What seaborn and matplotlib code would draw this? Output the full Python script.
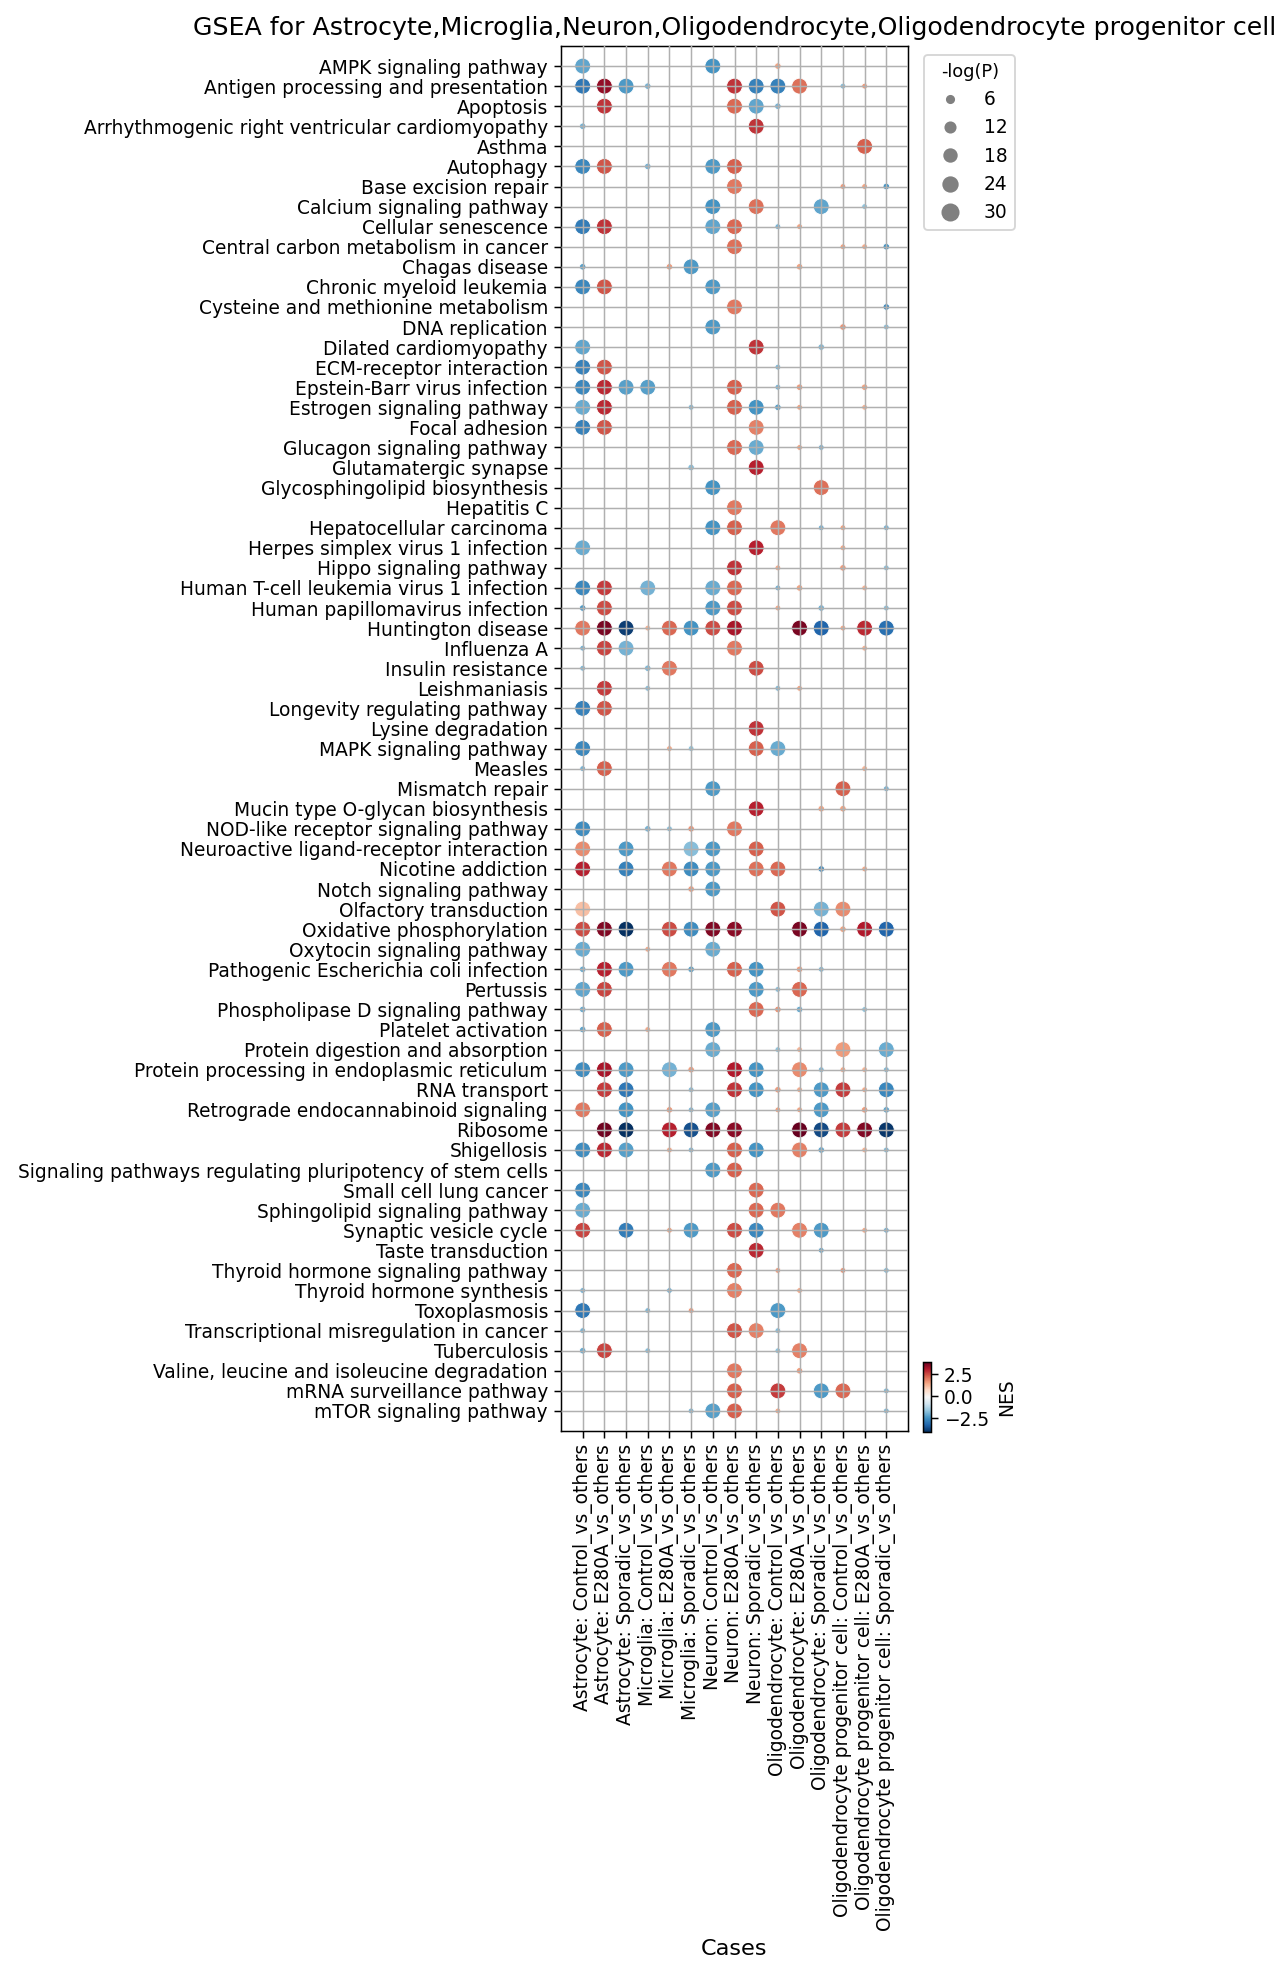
import pandas as pd
import matplotlib
matplotlib.use("Agg")
import matplotlib.pyplot as plt
from matplotlib.lines import Line2D
import seaborn as sns

pathways = [
    "AMPK signaling pathway", "Antigen processing and presentation", "Apoptosis",
    "Arrhythmogenic right ventricular cardiomyopathy", "Asthma", "Autophagy",
    "Base excision repair", "Calcium signaling pathway", "Cellular senescence",
    "Central carbon metabolism in cancer", "Chagas disease", "Chronic myeloid leukemia",
    "Cysteine and methionine metabolism", "DNA replication", "Dilated cardiomyopathy",
    "ECM-receptor interaction", "Epstein-Barr virus infection", "Estrogen signaling pathway",
    "Focal adhesion", "Glucagon signaling pathway", "Glutamatergic synapse",
    "Glycosphingolipid biosynthesis", "Hepatitis C", "Hepatocellular carcinoma",
    "Herpes simplex virus 1 infection", "Hippo signaling pathway",
    "Human T-cell leukemia virus 1 infection", "Human papillomavirus infection",
    "Huntington disease", "Influenza A", "Insulin resistance", "Leishmaniasis",
    "Longevity regulating pathway", "Lysine degradation", "MAPK signaling pathway",
    "Measles", "Mismatch repair", "Mucin type O-glycan biosynthesis",
    "NOD-like receptor signaling pathway", "Neuroactive ligand-receptor interaction",
    "Nicotine addiction", "Notch signaling pathway", "Olfactory transduction",
    "Oxidative phosphorylation", "Oxytocin signaling pathway",
    "Pathogenic Escherichia coli infection", "Pertussis", "Phospholipase D signaling pathway",
    "Platelet activation", "Protein digestion and absorption",
    "Protein processing in endoplasmic reticulum", "RNA transport",
    "Retrograde endocannabinoid signaling", "Ribosome", "Shigellosis",
    "Signaling pathways regulating pluripotency of stem cells", "Small cell lung cancer",
    "Sphingolipid signaling pathway", "Synaptic vesicle cycle", "Taste transduction",
    "Thyroid hormone signaling pathway", "Thyroid hormone synthesis", "Toxoplasmosis",
    "Transcriptional misregulation in cancer", "Tuberculosis",
    "Valine, leucine and isoleucine degradation", "mRNA surveillance pathway",
    "mTOR signaling pathway",
]

cases = [
    "Astrocyte: Control_vs_others", "Astrocyte: E280A_vs_others", "Astrocyte: Sporadic_vs_others",
    "Microglia: Control_vs_others", "Microglia: E280A_vs_others", "Microglia: Sporadic_vs_others",
    "Neuron: Control_vs_others", "Neuron: E280A_vs_others", "Neuron: Sporadic_vs_others",
    "Oligodendrocyte: Control_vs_others", "Oligodendrocyte: E280A_vs_others",
    "Oligodendrocyte: Sporadic_vs_others",
    "Oligodendrocyte progenitor cell: Control_vs_others",
    "Oligodendrocyte progenitor cell: E280A_vs_others",
    "Oligodendrocyte progenitor cell: Sporadic_vs_others",
]

# -log(P) levels
L, S, T = 29, 5, 4

# per case: pathway number (1-based, as listed above) -> (NES, -log(P))
astro_control = {1: (-2.2, L), 2: (-3.0, L), 4: (-2.0, S), 6: (-2.7, L), 9: (-2.9, L),
                 11: (-2.3, S), 12: (-2.7, L), 15: (-2.2, L), 16: (-2.8, L), 17: (-2.7, L),
                 18: (-2.1, L), 19: (-2.8, L), 25: (-2.1, L), 27: (-2.7, L), 28: (-2.4, S),
                 29: (2.0, L), 30: (-2.0, T), 31: (-1.9, T), 33: (-2.8, L), 35: (-2.7, L),
                 36: (-2.0, T), 39: (-2.6, L), 40: (1.8, L), 41: (3.0, L), 43: (1.1, L),
                 44: (2.5, L), 45: (-2.1, L), 46: (-2.1, S), 47: (-2.2, L), 48: (-2.1, S),
                 49: (-2.2, S), 51: (-2.6, L), 53: (2.0, L), 55: (-2.6, L), 57: (-2.7, L),
                 58: (-2.1, L), 59: (2.6, L), 62: (-2.0, T), 63: (-3.0, L), 64: (-2.0, T),
                 65: (-2.1, S)}
astro_e280a = {2: (3.4, L), 3: (2.8, L), 6: (2.4, L), 9: (2.8, L), 12: (2.4, L),
               16: (2.4, L), 17: (2.9, L), 18: (2.9, L), 19: (2.4, L), 27: (2.7, L),
               28: (2.5, L), 29: (3.7, L), 30: (2.6, L), 32: (2.7, L), 33: (2.4, L),
               36: (2.3, L), 44: (3.6, L), 46: (3.0, L), 47: (2.6, L), 49: (2.3, L),
               51: (3.2, L), 52: (2.7, L), 54: (3.8, L), 55: (2.9, L), 65: (2.6, L)}
astro_sporadic = {2: (-2.4, L), 17: (-2.3, L), 29: (-3.9, L), 30: (-2.0, L), 40: (-2.4, L),
                  41: (-2.8, L), 44: (-4.1, L), 46: (-2.4, L), 51: (-2.4, L), 52: (-3.0, L),
                  53: (-2.5, L), 54: (-4.1, L), 55: (-2.3, L), 59: (-2.9, L)}
micro_control = {2: (-2.0, S), 6: (-2.0, S), 17: (-2.3, L), 27: (-2.0, L), 29: (1.3, T),
                 31: (-1.9, S), 32: (-1.8, T), 39: (-2.0, S), 45: (1.4, T), 49: (1.4, T),
                 63: (-1.9, T), 65: (-1.8, T)}
micro_e280a = {11: (1.6, S), 29: (2.2, L), 31: (2.0, L), 35: (1.4, T), 39: (-1.8, T),
               41: (2.0, L), 44: (2.5, L), 46: (2.0, L), 51: (-2.0, L), 53: (1.6, S),
               54: (3.0, L), 55: (1.4, T), 59: (1.5, T), 62: (-2.0, T)}
micro_sporadic = {11: (-2.4, L), 18: (-1.9, T), 21: (-1.8, S), 29: (-2.5, L), 35: (-1.7, T),
                  39: (1.7, S), 40: (-1.8, L), 41: (-2.6, L), 42: (1.6, S), 44: (-2.6, L),
                  46: (-2.3, S), 51: (1.6, S), 52: (-1.8, T), 53: (-1.9, T), 54: (-3.6, L),
                  55: (-1.9, T), 59: (-2.4, L), 63: (1.6, T), 68: (-1.9, T)}
neuron_control = {1: (-2.5, L), 6: (-2.4, L), 8: (-2.5, L), 9: (-2.2, L), 12: (-2.4, L),
                  14: (-2.4, L), 22: (-2.5, L), 24: (-2.5, L), 27: (-2.1, L), 28: (-2.4, L),
                  29: (2.5, L), 37: (-2.4, L), 40: (-2.4, L), 41: (-2.4, L), 42: (-2.4, L),
                  44: (3.6, L), 45: (-2.1, L), 49: (-2.4, L), 50: (-2.1, L), 53: (-2.3, L),
                  54: (3.6, L), 56: (-2.4, L), 68: (-2.3, L)}
neuron_e280a = {2: (2.8, L), 3: (2.2, L), 6: (2.3, L), 7: (2.0, L), 9: (2.2, L),
                10: (2.1, L), 13: (2.0, L), 17: (2.3, L), 18: (2.3, L), 20: (2.2, L),
                23: (2.0, L), 24: (2.3, L), 26: (2.8, L), 27: (2.2, L), 28: (2.5, L),
                29: (3.2, L), 30: (2.0, L), 39: (2.0, L), 44: (3.5, L), 46: (2.3, L),
                51: (3.1, L), 52: (2.8, L), 54: (3.5, L), 55: (2.3, L), 56: (2.3, L),
                59: (2.5, L), 61: (2.2, L), 62: (1.9, L), 64: (2.4, L), 66: (2.0, L),
                67: (2.3, L), 68: (2.3, L)}
neuron_sporadic = {2: (-2.8, L), 3: (-2.2, L), 4: (2.8, L), 8: (2.1, L), 15: (2.8, L),
                   18: (-2.5, L), 19: (1.9, L), 20: (-2.1, L), 21: (3.0, L), 25: (3.0, L),
                   31: (2.5, L), 34: (2.8, L), 35: (2.3, L), 38: (3.0, L), 40: (2.3, L),
                   41: (2.1, L), 46: (-2.5, L), 47: (-2.4, L), 48: (2.2, L), 51: (-2.5, L),
                   52: (-2.5, L), 55: (-2.5, L), 57: (2.2, L), 58: (2.2, L), 59: (-2.7, L),
                   60: (2.9, L), 64: (1.9, L)}
oligo_control = {1: (1.5, S), 2: (-2.8, L), 3: (-2.0, S), 9: (-2.0, T), 16: (-1.9, T),
                 17: (-2.0, T), 18: (-2.3, S), 24: (2.0, L), 26: (1.4, T), 27: (-2.0, T),
                 28: (1.4, T), 32: (-1.9, T), 35: (-2.1, L), 41: (2.2, L), 43: (2.4, L),
                 47: (-1.8, T), 48: (1.7, S), 50: (-1.7, T), 52: (1.6, S), 53: (1.5, T),
                 58: (2.0, L), 61: (1.6, T), 63: (-2.4, L), 64: (-1.8, T), 65: (-1.7, T),
                 67: (2.7, L), 68: (1.4, T)}
oligo_e280a = {2: (2.1, L), 9: (1.5, T), 11: (1.5, S), 17: (1.6, S), 18: (1.5, T),
               20: (1.5, T), 27: (1.5, S), 29: (3.7, L), 32: (1.5, T), 44: (3.7, L),
               46: (1.6, S), 47: (2.2, L), 48: (-2.1, S), 50: (1.3, T), 51: (1.8, L),
               52: (1.4, T), 53: (1.5, T), 54: (3.9, L), 55: (1.9, L), 59: (1.9, L),
               62: (1.4, T), 65: (1.9, L), 66: (1.6, S)}
oligo_sporadic = {8: (-2.2, L), 15: (-1.9, S), 20: (-2.0, T), 22: (2.1, L), 24: (-2.0, T),
                  28: (-2.0, S), 29: (-3.3, L), 38: (1.5, S), 41: (-2.6, S), 43: (-2.0, L),
                  44: (-3.3, L), 46: (-1.9, T), 51: (-1.9, T), 52: (-2.4, L), 53: (-2.4, L),
                  54: (-3.7, L), 55: (-2.2, S), 59: (-2.4, L), 60: (-2.2, T), 67: (-2.4, L)}
opc_control = {2: (-1.8, T), 7: (1.6, T), 10: (1.5, T), 14: (1.7, S), 24: (1.5, T),
               25: (1.4, T), 26: (1.6, S), 29: (1.4, T), 37: (2.3, L), 38: (1.5, S),
               43: (1.8, L), 44: (1.5, S), 50: (1.6, L), 51: (1.4, T), 52: (2.7, L),
               54: (2.7, L), 61: (1.7, T), 67: (2.2, L)}
opc_e280a = {2: (1.6, T), 5: (2.3, L), 7: (1.5, T), 8: (-1.7, T), 10: (1.4, T),
             17: (1.5, S), 18: (1.3, T), 27: (1.3, T), 29: (2.9, L), 30: (1.3, T),
             36: (1.3, T), 41: (1.4, T), 44: (3.1, L), 48: (-1.7, T), 51: (1.3, T),
             52: (1.4, T), 53: (1.6, S), 54: (3.6, L), 55: (1.3, T), 59: (1.4, T)}
opc_sporadic = {7: (-2.5, S), 10: (-2.5, S), 13: (-2.6, S), 14: (-1.8, T), 24: (-2.0, T),
                26: (-1.8, T), 28: (-1.8, T), 29: (-3.1, L), 37: (-2.0, T), 44: (-3.3, L),
                50: (-2.1, L), 51: (-1.9, T), 52: (-2.7, L), 53: (-2.2, S), 54: (-4.0, L),
                55: (-1.9, T), 59: (-2.0, T), 61: (-1.8, T), 67: (-1.9, T), 68: (-1.9, T)}

per_case = [astro_control, astro_e280a, astro_sporadic, micro_control, micro_e280a,
            micro_sporadic, neuron_control, neuron_e280a, neuron_sporadic, oligo_control,
            oligo_e280a, oligo_sporadic, opc_control, opc_e280a, opc_sporadic]

nes_range = (-4.1, 3.9)
size_levels = [6, 12, 18, 24, 30]

rows = []
for ci, d in enumerate(per_case):
    for pi, (nes, lp) in d.items():
        rows.append({"case": ci, "pathway": pi - 1, "NES": nes, "logp": lp})
df = pd.DataFrame(rows)

dpi = 134.4
fig = plt.figure(figsize=(1288 / dpi, 1983 / dpi), dpi=dpi)
ax = fig.add_axes([561 / 1288, 1 - 1431 / 1983, 347 / 1288, 1385 / 1983])

norm = plt.Normalize(*nes_range)
sns.scatterplot(data=df, x="case", y="pathway", hue="NES", size="logp",
                palette="RdBu_r", hue_norm=norm, sizes=(0, 75), size_norm=(0, 30),
                legend=False, linewidth=0.5, ax=ax)

ax.set_xticks(range(len(cases)))
ax.set_xticklabels(cases, rotation=90)
ax.set_yticks(range(len(pathways)))
ax.set_yticklabels(pathways)
ax.set_xlim(-1, len(cases))
ax.set_ylim(len(pathways), -1)
ax.grid(True)
ax.set_axisbelow(False)
ax.set_xlabel("Cases", fontsize=12)
ax.set_ylabel("")
ax.set_title("GSEA for Astrocyte,Microglia,Neuron,Oligodendrocyte,"
             "Oligodendrocyte progenitor cell", fontsize=13.5)

# size legend
handles = [Line2D([], [], marker="o", linestyle="", color="gray",
                  markersize=(2.5 * v) ** 0.5, label=str(v)) for v in size_levels]
ax.legend(handles=handles, title="-log(P)", loc="upper left",
          bbox_to_anchor=(1.02, 1), fontsize=10, title_fontsize=9.5)

# NES colorbar
cax = fig.add_axes([923 / 1288, 1 - 1432 / 1983, 8 / 1288, 70 / 1983])
sm = plt.cm.ScalarMappable(norm=norm, cmap="RdBu_r")
cbar = fig.colorbar(sm, cax=cax, ticks=[-2.5, 0, 2.5])
cbar.set_label("NES")

fig.savefig("out.png", dpi=dpi)
